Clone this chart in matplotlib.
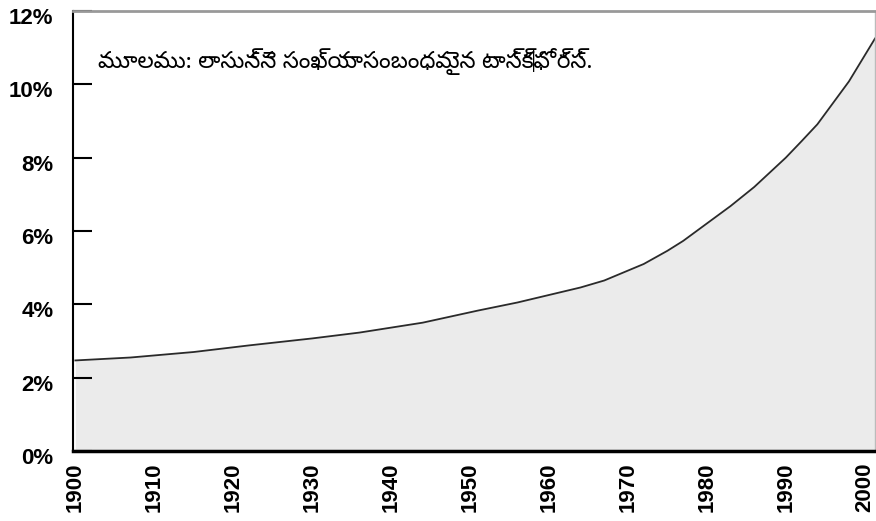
import matplotlib
matplotlib.use("Agg")
import matplotlib.pyplot as plt
from matplotlib import font_manager
from matplotlib.transforms import ScaledTranslation
from matplotlib.ticker import FuncFormatter

years = [1900, 1907, 1915, 1922, 1930, 1936, 1944, 1951, 1956, 1964, 1967, 1972,
         1975, 1977, 1983, 1986, 1990, 1992, 1994, 1998, 2001.3]
share = [2.47, 2.55, 2.7, 2.88, 3.07, 3.23, 3.5, 3.83, 4.05, 4.46, 4.65, 5.1,
         5.46, 5.73, 6.68, 7.2, 8.0, 8.45, 8.91, 10.08, 11.25]
xticks = list(range(1900, 2001, 10))
yticks = [0, 2, 4, 6, 8, 10, 12]
note = "మూలము: లాసున్నె సంఖ్యాసంబంధమైన టాస్క్‌ఫోర్స్."

plt.rcParams['font.family'] = ['Liberation Sans', 'DejaVu Sans']

# pick an installed font that has Telugu glyphs
telugu_file = None
all_fonts = font_manager.findSystemFonts()
for key in ["NotoSansTelugu", "Mandali", "HindGuntur-Regular", "NTR"]:
    hits = sorted(f for f in all_fonts if key in f)
    if hits:
        telugu_file = hits[0]
        break
if telugu_file:
    note_font = font_manager.FontProperties(fname=telugu_file, size=16.5)
else:
    note_font = font_manager.FontProperties(size=16.5)

fig = plt.figure(figsize=(8.76, 5.21), dpi=100)
ax = fig.add_axes([73 / 876, 1 - 451 / 521, 802 / 876, 440 / 521])

ax.fill_between(years, share, 0, color='#ebebeb', linewidth=0)
ax.plot(years, share, color='#2a2a2a', linewidth=1.3)

ax.set_xlim(1899.7, 2001.3)
ax.set_ylim(0, 11.97)
ax.set_xticks(xticks)
ax.set_yticks(yticks)
ax.yaxis.set_major_formatter(FuncFormatter(lambda v, p: f"{int(v)}%"))

ax.tick_params(axis='y', direction='in', length=14, width=1.5, color='black', pad=14)
ax.tick_params(axis='x', length=0, pad=8)
shift = ScaledTranslation(0, -5 / 100, fig.dpi_scale_trans)
for lab in ax.get_xticklabels():
    lab.set_rotation(90)
    lab.set_fontweight('bold')
    lab.set_fontsize(16)
for lab in ax.get_yticklabels():
    lab.set_fontweight('bold')
    lab.set_fontsize(16)
    lab.set_transform(lab.get_transform() + shift)

ax.spines['left'].set_color('black')
ax.spines['left'].set_linewidth(1.5)
ax.spines['bottom'].set_color('black')
ax.spines['bottom'].set_linewidth(2.5)
ax.spines['top'].set_color('#999999')
ax.spines['top'].set_linewidth(2)
ax.spines['right'].set_color('#bbbbbb')
ax.spines['right'].set_linewidth(1)

ax.text(0.031, 0.885, note, transform=ax.transAxes, fontproperties=note_font,
        va='center', ha='left')

fig.savefig("out.png", dpi=100)
